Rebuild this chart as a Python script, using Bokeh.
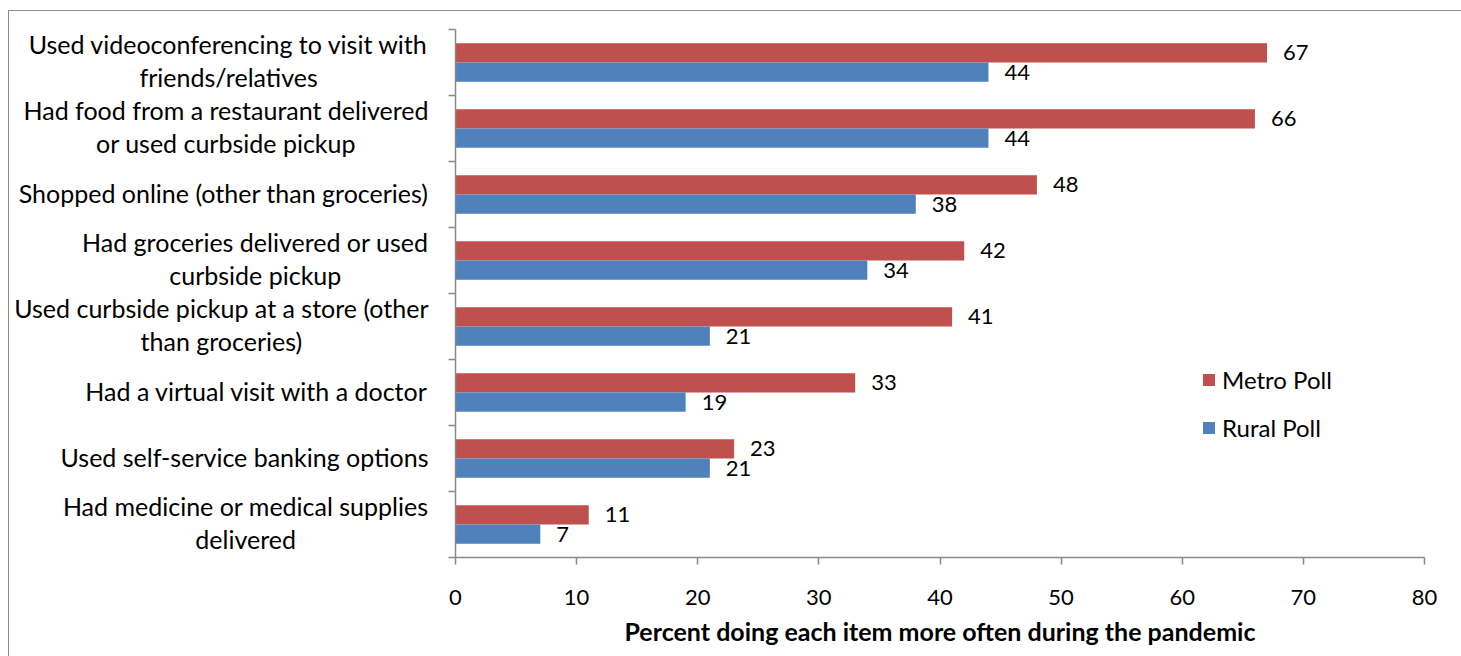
from bokeh.plotting import figure
from bokeh.layouts import row
from bokeh.models import (ColumnDataSource, LabelSet, Range1d, FixedTicker,
                          Legend, LegendItem, InlineStyleSheet)
from bokeh.core.properties import value
from bokeh.transform import dodge
from bokeh.embed import file_html
from bokeh.resources import INLINE

categories = [
    "Used videoconferencing to visit with\nfriends/relatives",
    "Had food from a restaurant delivered\nor used curbside pickup",
    "Shopped online (other than groceries)",
    "Had groceries delivered or used\ncurbside pickup",
    "Used curbside pickup at a store (other\nthan groceries)",
    "Had a virtual visit with a doctor",
    "Used self-service banking options",
    "Had medicine or medical supplies\ndelivered",
]
metro = [67, 66, 48, 42, 41, 33, 23, 11]
rural = [44, 44, 38, 34, 21, 19, 21, 7]
x_ticks = [0, 10, 20, 30, 40, 50, 60, 70, 80]
x_title = "Percent doing each item more often during the pandemic"
series_names = ["Metro Poll", "Rural Poll"]

FONT = "Lato"
RED = "#C0504D"
BLUE = "#4F81BD"
AXIS = "#898989"

n = len(categories)
ypos = [n - i - 0.5 for i in range(n)]

src = ColumnDataSource(dict(
    y=ypos, metro=metro, rural=rural,
    metro_txt=[str(v) for v in metro], rural_txt=[str(v) for v in rural],
))

LEFT_W = 440      # width of the label panel (px)
LABEL_RIGHT = 428 # right edge of the category label blocks (px)

y_range = Range1d(0, n)

# ---- label panel -------------------------------------------------------
pl = figure(width=LEFT_W, height=648, output_backend="svg", toolbar_location=None,
            x_range=Range1d(0, LEFT_W), y_range=y_range,
            x_axis_location=None, y_axis_location=None,
            min_border_left=0, min_border_right=0, min_border_top=29,
            min_border_bottom=87)
pl.outline_line_color = None
pl.grid.visible = False
lab_src = ColumnDataSource(dict(y=ypos, text=categories, x=[LABEL_RIGHT] * n))
pl.text(x="x", y="y", text="text", source=lab_src, anchor="center_right",
        text_align="center", text_baseline="middle", y_offset=-2,
        text_font=value(FONT), text_font_size="25px", text_color="black",
        text_line_height=1.1)

# ---- chart ---------------------------------------------------------------
p = figure(width=1453 - LEFT_W, height=648, output_backend="svg",
           toolbar_location=None, x_range=Range1d(0, 80), y_range=y_range,
           min_border_left=455 - LEFT_W, min_border_right=29, min_border_top=29,
           min_border_bottom=87)
p.outline_line_color = None
p.xgrid.grid_line_color = None
p.ygrid.grid_line_color = None

r_metro = p.hbar(y=dodge("y", 0.145, range=p.y_range), right="metro", left=0,
                 height=0.29, source=src, fill_color=RED, line_color=None)
r_rural = p.hbar(y=dodge("y", -0.145, range=p.y_range), right="rural", left=0,
                 height=0.29, source=src, fill_color=BLUE, line_color=None)

for fld, txt, off in (("metro", "metro_txt", 0.145), ("rural", "rural_txt", -0.145)):
    p.add_layout(LabelSet(x=fld, y=dodge("y", off, range=p.y_range), text=txt,
                          source=src, x_offset=16, text_baseline="middle",
                          text_font=value(FONT), text_font_size="22px",
                          text_color="black"))

xa = p.xaxis[0]
xa.ticker = FixedTicker(ticks=x_ticks)
xa.axis_line_color = AXIS
xa.axis_line_width = 1.5
xa.major_tick_line_color = AXIS
xa.major_tick_line_width = 1.5
xa.major_tick_in = 0
xa.major_tick_out = 7
xa.minor_tick_line_color = None
xa.major_label_text_font = FONT
xa.major_label_text_font_size = "22px"
xa.major_label_text_color = "black"
xa.major_label_standoff = 25
xa.axis_label = x_title
xa.axis_label_text_font = FONT
xa.axis_label_text_font_style = "bold"
xa.axis_label_text_font_size = "25px"
xa.axis_label_text_color = "black"
xa.axis_label_standoff = 8

ya = p.yaxis[0]
ya.ticker = FixedTicker(ticks=list(range(n + 1)))
ya.axis_line_color = AXIS
ya.axis_line_width = 1.5
ya.major_tick_line_color = AXIS
ya.major_tick_line_width = 1.5
ya.major_tick_in = 0
ya.major_tick_out = 7
ya.minor_tick_line_color = None
ya.major_label_text_font_size = "0px"
ya.major_label_text_color = None
ya.major_label_standoff = 0

legend = Legend(items=[LegendItem(label=series_names[0], renderers=[r_metro]),
                       LegendItem(label=series_names[1], renderers=[r_rural])],
                location=(746, 115))
legend.label_text_font = FONT
legend.label_text_font_size = "24px"
legend.label_text_color = "black"
legend.glyph_width = 15
legend.glyph_height = 15
legend.label_height = 25
legend.spacing = 19
legend.label_standoff = 6
legend.padding = 0
legend.margin = 0
legend.border_line_color = None
legend.background_fill_color = None
p.add_layout(legend)

border_css = InlineStyleSheet(css="""
:host { position: relative; }
:host::after { content: ""; position: absolute; left: 8px; top: 10px;
  width: 2000px; height: 2000px; border: 1.5px solid #8c8c8c;
  pointer-events: none; box-sizing: border-box; }
""")

layout = row(pl, p, spacing=0, stylesheets=[border_css])

open("out.html", "w").write(file_html(layout, INLINE))
